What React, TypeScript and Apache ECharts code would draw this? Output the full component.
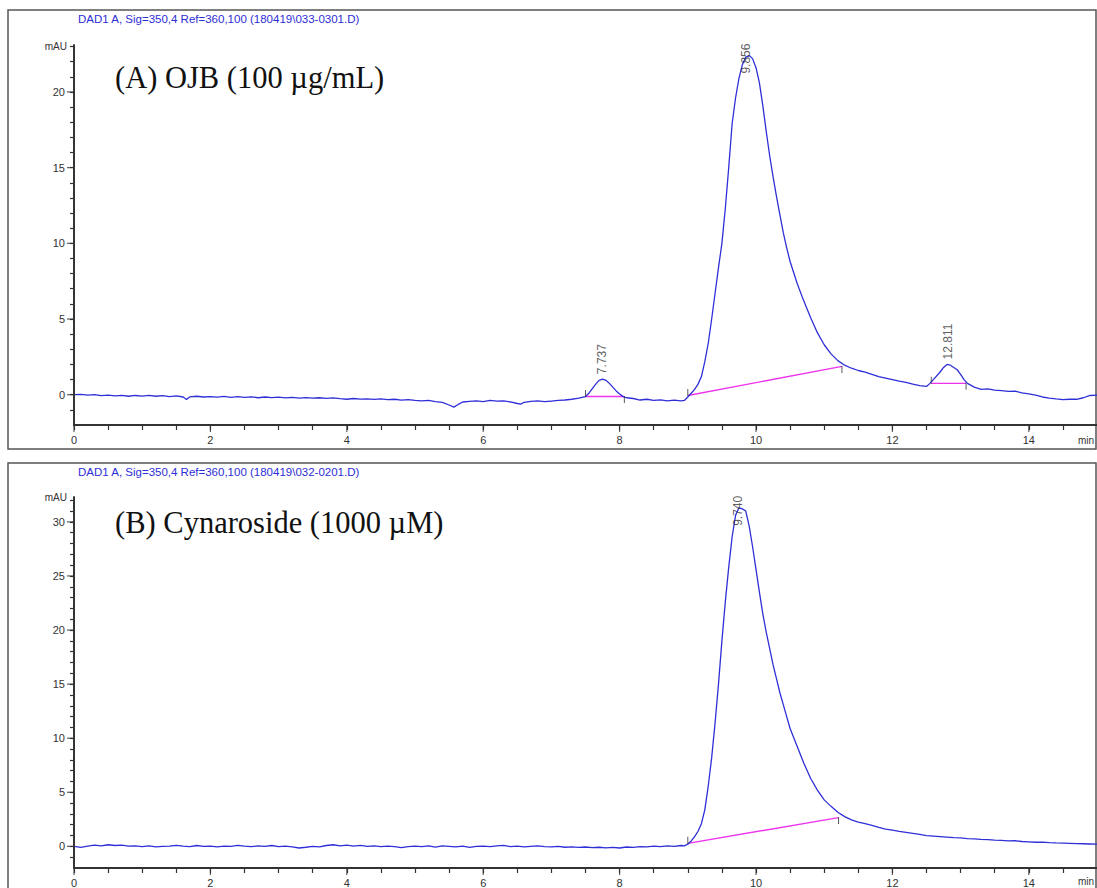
import React, { useEffect, useRef } from "react";
import * as echarts from "echarts";

// ---------- texts ----------
const headerA = "DAD1 A, Sig=350,4 Ref=360,100 (180419\\033-0301.D)";
const headerB = "DAD1 A, Sig=350,4 Ref=360,100 (180419\\032-0201.D)";
const titleA = "(A) OJB (100 µg/mL)";
const titleB = "(B) Cynaroside (1000 µM)";
const yUnit = "mAU";
const xUnit = "min";

// ---------- axes ----------
const xRange = [0, 15];
const yRangeA = [-2, 23.1];
const yRangeB = [-2, 32.3];
const xLabelTicks = [0, 2, 4, 6, 8, 10, 12, 14];
const xAllTicks = [0, 0.5, 1, 1.5, 2, 2.5, 3, 3.5, 4, 4.5, 5, 5.5, 6, 6.5, 7, 7.5, 8, 8.5, 9, 9.5, 10, 10.5, 11, 11.5, 12, 12.5, 13, 13.5, 14, 14.5];
const yLabelTicksA = [0, 5, 10, 15, 20];
const yAllTicksA = [-1, 0, 1, 2, 3, 4, 5, 6, 7, 8, 9, 10, 11, 12, 13, 14, 15, 16, 17, 18, 19, 20, 21, 22, 23];
const yLabelTicksB = [0, 5, 10, 15, 20, 25, 30];
const yAllTicksB = [-1, 0, 1, 2, 3, 4, 5, 6, 7, 8, 9, 10, 11, 12, 13, 14, 15, 16, 17, 18, 19, 20, 21, 22, 23, 24, 25, 26, 27, 28, 29, 30, 31, 32];

// ---------- trace A (time min, mAU) ----------
const traceA: [number, number][] = [
  [0.0, 0.0], [0.1, 0.02], [0.2, -0.03], [0.3, 0.0], [0.4, -0.06], [0.5, -0.02], [0.6, -0.08], [0.7, -0.04],
  [0.8, -0.1], [0.9, -0.05], [1.0, -0.09], [1.1, -0.04], [1.2, -0.1], [1.3, -0.06], [1.4, -0.12], [1.5, -0.08],
  [1.6, -0.15], [1.65, -0.32], [1.7, -0.14], [1.8, -0.1], [1.9, -0.15], [2.0, -0.12], [2.1, -0.16], [2.2, -0.11],
  [2.3, -0.17], [2.4, -0.13], [2.5, -0.18], [2.6, -0.14], [2.7, -0.2], [2.8, -0.15], [2.9, -0.19], [3.0, -0.16],
  [3.1, -0.21], [3.2, -0.18], [3.3, -0.22], [3.4, -0.19], [3.5, -0.23], [3.6, -0.2], [3.7, -0.24], [3.8, -0.21],
  [3.9, -0.26], [4.0, -0.3], [4.1, -0.25], [4.2, -0.29], [4.3, -0.27], [4.4, -0.31], [4.5, -0.28], [4.6, -0.33],
  [4.7, -0.3], [4.8, -0.36], [4.9, -0.33], [5.0, -0.38], [5.1, -0.4], [5.2, -0.37], [5.3, -0.45], [5.4, -0.5],
  [5.5, -0.68], [5.57, -0.82], [5.65, -0.6], [5.7, -0.48], [5.8, -0.44], [5.9, -0.4], [6.0, -0.45], [6.1, -0.38],
  [6.2, -0.42], [6.3, -0.4], [6.4, -0.48], [6.5, -0.58], [6.55, -0.62], [6.6, -0.5], [6.7, -0.44], [6.8, -0.4],
  [6.9, -0.46], [7.0, -0.42], [7.1, -0.38], [7.2, -0.35], [7.3, -0.3], [7.4, -0.22], [7.5, -0.12], [7.55, 0.1],
  [7.6, 0.4], [7.65, 0.7], [7.7, 0.95], [7.75, 1.03], [7.8, 0.95], [7.85, 0.75], [7.9, 0.5], [7.95, 0.25],
  [8.0, 0.05], [8.05, -0.12], [8.1, -0.2], [8.2, -0.25], [8.3, -0.35], [8.4, -0.3], [8.5, -0.38], [8.6, -0.34],
  [8.7, -0.4], [8.8, -0.36], [8.9, -0.4], [8.95, -0.38], [9.0, -0.15], [9.05, 0.1], [9.1, 0.35], [9.15, 0.7],
  [9.2, 1.2], [9.25, 2.2], [9.3, 3.4], [9.35, 5.0], [9.4, 6.7], [9.45, 8.4], [9.5, 10.0], [9.55, 12.3],
  [9.6, 15.0], [9.65, 17.9], [9.7, 19.6], [9.75, 20.9], [9.8, 21.8], [9.85, 22.3], [9.9, 22.4], [9.95, 22.2],
  [10.0, 21.6], [10.05, 20.6], [10.1, 19.1], [10.15, 17.4], [10.2, 15.8], [10.25, 14.4], [10.3, 13.1], [10.35, 11.9],
  [10.4, 10.7], [10.45, 9.7], [10.5, 8.8], [10.6, 7.4], [10.7, 6.2], [10.8, 5.1], [10.9, 4.1], [11.0, 3.3],
  [11.1, 2.7], [11.2, 2.25], [11.3, 1.95], [11.4, 1.75], [11.5, 1.6], [11.6, 1.5], [11.7, 1.35], [11.8, 1.2],
  [11.9, 1.1], [12.0, 1.0], [12.1, 0.9], [12.2, 0.82], [12.3, 0.7], [12.4, 0.6], [12.5, 0.55], [12.55, 0.75],
  [12.6, 1.0], [12.7, 1.5], [12.75, 1.8], [12.8, 2.0], [12.85, 1.95], [12.9, 1.8], [12.95, 1.65], [13.0, 1.35],
  [13.05, 1.0], [13.1, 0.75], [13.2, 0.5], [13.3, 0.35], [13.4, 0.38], [13.5, 0.3], [13.6, 0.27], [13.7, 0.22],
  [13.8, 0.24], [13.9, 0.12], [14.0, 0.05], [14.1, -0.02], [14.2, -0.15], [14.3, -0.22], [14.4, -0.28], [14.5, -0.33],
  [14.6, -0.3], [14.7, -0.3], [14.8, -0.2], [14.9, -0.05], [15.0, -0.02],
];

// ---------- trace B ----------
const traceB: [number, number][] = [
  [0.0, 0.0], [0.1, -0.1], [0.2, 0.02], [0.3, 0.12], [0.4, 0.05], [0.5, 0.15], [0.6, 0.08], [0.7, 0.12],
  [0.8, 0.02], [0.9, 0.05], [1.0, -0.02], [1.1, 0.04], [1.2, -0.05], [1.3, 0.0], [1.4, 0.02], [1.5, 0.1],
  [1.6, 0.03], [1.7, -0.02], [1.8, 0.08], [1.9, 0.0], [2.0, 0.02], [2.1, -0.05], [2.2, 0.03], [2.3, 0.0],
  [2.4, 0.1], [2.5, 0.02], [2.6, -0.03], [2.7, 0.05], [2.8, 0.0], [2.9, 0.08], [3.0, -0.02], [3.1, 0.02],
  [3.2, -0.05], [3.3, -0.15], [3.4, -0.08], [3.5, 0.0], [3.6, -0.05], [3.7, 0.08], [3.8, 0.15], [3.9, 0.05],
  [4.0, 0.12], [4.1, 0.02], [4.2, 0.1], [4.3, 0.0], [4.4, 0.05], [4.5, -0.03], [4.6, 0.02], [4.7, -0.02],
  [4.8, -0.12], [4.9, -0.02], [5.0, 0.03], [5.1, -0.02], [5.2, 0.05], [5.3, -0.08], [5.4, 0.04], [5.5, 0.0],
  [5.6, -0.05], [5.7, 0.02], [5.8, -0.1], [5.9, 0.0], [6.0, 0.03], [6.1, -0.02], [6.2, 0.05], [6.3, 0.1],
  [6.4, -0.03], [6.5, 0.02], [6.6, -0.05], [6.7, 0.0], [6.8, 0.05], [6.9, -0.02], [7.0, -0.05], [7.1, 0.0],
  [7.2, -0.08], [7.3, -0.04], [7.4, -0.1], [7.5, -0.06], [7.6, -0.12], [7.7, -0.08], [7.8, -0.14], [7.9, -0.1],
  [8.0, -0.15], [8.1, -0.06], [8.2, -0.1], [8.3, -0.02], [8.4, -0.05], [8.5, 0.02], [8.6, -0.03], [8.7, 0.05],
  [8.8, 0.0], [8.9, 0.08], [8.95, 0.05], [9.0, 0.2], [9.05, 0.5], [9.1, 0.9], [9.15, 1.4], [9.2, 2.1],
  [9.25, 3.4], [9.3, 5.6], [9.35, 8.2], [9.4, 11.4], [9.45, 15.0], [9.5, 19.0], [9.55, 22.6], [9.6, 25.8],
  [9.65, 28.6], [9.7, 30.6], [9.75, 31.3], [9.8, 31.2], [9.85, 31.0], [9.9, 29.6], [9.95, 27.7], [10.0, 25.6],
  [10.05, 23.5], [10.1, 21.5], [10.15, 19.8], [10.2, 18.3], [10.25, 16.8], [10.3, 15.5], [10.35, 14.2], [10.4, 13.1],
  [10.45, 12.0], [10.5, 10.9], [10.6, 9.3], [10.7, 7.7], [10.8, 6.3], [10.9, 5.2], [11.0, 4.3], [11.1, 3.7],
  [11.2, 3.15], [11.3, 2.75], [11.4, 2.45], [11.5, 2.25], [11.6, 2.1], [11.7, 1.95], [11.8, 1.75], [11.9, 1.6],
  [12.0, 1.5], [12.1, 1.38], [12.2, 1.3], [12.3, 1.2], [12.4, 1.1], [12.5, 1.0], [12.6, 0.95], [12.7, 0.9],
  [12.8, 0.85], [12.9, 0.8], [13.0, 0.78], [13.1, 0.72], [13.2, 0.7], [13.3, 0.65], [13.4, 0.62], [13.5, 0.58],
  [13.6, 0.55], [13.7, 0.5], [13.8, 0.52], [13.9, 0.45], [14.0, 0.42], [14.1, 0.38], [14.2, 0.4], [14.3, 0.35],
  [14.4, 0.32], [14.5, 0.3], [14.6, 0.28], [14.7, 0.26], [14.8, 0.24], [14.9, 0.22], [15.0, 0.2],
];

// ---------- peaks & integration baselines ----------
const peakTimesA = [7.737, 9.856, 12.811];
const peakHeightsA = [1.03, 22.4, 2.0];
const peakTimesB = [9.74];
const peakHeightsB = [31.3];
const baselinesA: [number, number][][] = [
  [[7.5, -0.12], [8.07, -0.12]],
  [[9.0, -0.05], [11.26, 1.87]],
  [[12.57, 0.75], [13.08, 0.75]],
];
const baselinesB: [number, number][][] = [
  [[9.0, 0.28], [11.21, 2.66]],
];

const AXIS_COLOR = "#333";
const LABEL_COLOR = "#333";
const TRACE_COLOR = "#2f2fd8";
const BASE_COLOR = "#ee33ee";
const SANS = "'Liberation Sans', Arial, sans-serif";
const SERIF = "'Liberation Serif', 'Times New Roman', serif";

function axesFor(gridIndex: number, yRange: number[], yLabels: number[], yTicks: number[]) {
  const xAxis = {
    type: "value", gridIndex, min: xRange[0], max: xRange[1], position: "bottom",
    axisLine: { show: true, onZero: false, lineStyle: { color: AXIS_COLOR, width: 1.8 } },
    axisTick: { show: true, customValues: xAllTicks, length: 5, lineStyle: { color: AXIS_COLOR, width: 1.2 } },
    axisLabel: { show: true, customValues: xLabelTicks, margin: 9, fontSize: 11, color: LABEL_COLOR, fontFamily: SANS },
    splitLine: { show: false },
  };
  const yAxis = {
    type: "value", gridIndex, min: yRange[0], max: yRange[1], position: "left",
    axisLine: { show: true, onZero: false, lineStyle: { color: AXIS_COLOR, width: 1.8 } },
    axisTick: { show: true, customValues: yTicks, length: 4, lineStyle: { color: AXIS_COLOR, width: 1.2 } },
    axisLabel: { show: true, customValues: yLabels, margin: 9, fontSize: 11, color: LABEL_COLOR, fontFamily: SANS },
    splitLine: { show: false },
  };
  return { xAxis, yAxis };
}

function seriesFor(axisIndex: number, yRange: number[], trace: [number, number][], baselines: [number, number][][],
  peakT: number[], peakH: number[]) {
  const out: any[] = [];
  out.push({
    type: "line", xAxisIndex: axisIndex, yAxisIndex: axisIndex, data: trace, showSymbol: false, symbol: "none",
    lineStyle: { color: TRACE_COLOR, width: 1.3 }, z: 3, silent: true,
  });
  baselines.forEach((seg) => {
    out.push({
      type: "line", xAxisIndex: axisIndex, yAxisIndex: axisIndex, data: seg, symbol: "none",
      lineStyle: { color: BASE_COLOR, width: 1.4 }, z: 2, silent: true,
    });
  });
  // axis frame (left and bottom), drawn through the scales
  out.push({
    type: "line", xAxisIndex: axisIndex, yAxisIndex: axisIndex, symbol: "none", z: 10, clip: false, silent: true,
    data: [[xRange[0], yRange[1]], [xRange[0], yRange[0]], [xRange[1], yRange[0]]],
    lineStyle: { color: "#333", width: 1.8 },
  });
  // longer ticks at the labelled values
  const majorTicks: any[] = [];
  yLabelsFor(yRange).forEach((v) => majorTicks.push({ value: [xRange[0], v], symbolSize: [7, 1.2], symbolOffset: [-3.5, 0] }));
  xLabelTicks.forEach((t) => majorTicks.push({ value: [t, yRange[0]], symbolSize: [1.2, 7], symbolOffset: [0, 3.5] }));
  out.push({
    type: "scatter", xAxisIndex: axisIndex, yAxisIndex: axisIndex, symbol: "rect", clip: false,
    itemStyle: { color: AXIS_COLOR }, silent: true, z: 11, data: majorTicks,
  });
  const marks: any[] = [];
  baselines.forEach((seg) => {
    marks.push({ value: seg[0], symbolOffset: [0, -3] });
    marks.push({ value: seg[1], symbolOffset: [0, 3] });
  });
  out.push({
    type: "scatter", xAxisIndex: axisIndex, yAxisIndex: axisIndex, symbol: "rect", symbolSize: [1, 7],
    itemStyle: { color: "#333" }, silent: true, z: 4, data: marks,
  });
  out.push({
    type: "scatter", xAxisIndex: axisIndex, yAxisIndex: axisIndex, symbolSize: 0, silent: true, z: 5,
    data: peakT.map((t, i) => ({
      value: [t, peakH[i]],
      label: {
        show: true, formatter: t.toFixed(3),
        position: "top", distance: peakH[i] / yRange[1] > 0.8 ? -18 : 5,
        rotate: 90, align: "left", verticalAlign: "middle",
        fontSize: 12, color: LABEL_COLOR, fontFamily: SANS,
      },
    })),
  });
  return out;
}

function yLabelsFor(yRange: number[]) {
  return yRange === yRangeA ? yLabelTicksA : yLabelTicksB;
}

export default function App() {
  const ref = useRef<HTMLDivElement>(null);
  useEffect(() => {
    if (!ref.current) return;
    const chart = echarts.init(ref.current, undefined, { renderer: "svg" });
    const a = axesFor(0, yRangeA, yLabelTicksA, yAllTicksA);
    const b = axesFor(1, yRangeB, yLabelTicksB, yAllTicksB);
    const option: any = {
      animation: false,
      grid: [
        { left: 74, right: 0, top: 45, height: 380 },
        { left: 74, right: 0, top: 497, height: 373 },
      ],
      xAxis: [a.xAxis, b.xAxis],
      yAxis: [a.yAxis, b.yAxis],
      series: [
        ...seriesFor(0, yRangeA, traceA, baselinesA, peakTimesA, peakHeightsA),
        ...seriesFor(1, yRangeB, traceB, baselinesB, peakTimesB, peakHeightsB),
      ],
      graphic: [
        { type: "rect", shape: { x: 8, y: 10, width: 1088, height: 439 }, style: { fill: "none", stroke: "#555", lineWidth: 1.5 }, silent: true },
        { type: "rect", shape: { x: 8, y: 463, width: 1088, height: 440 }, style: { fill: "none", stroke: "#555", lineWidth: 1.5 }, silent: true },
        { type: "text", x: 78, y: 19, style: { text: headerA, fill: "#2d2dd6", font: `11.5px ${SANS}`, verticalAlign: "middle" } },
        { type: "text", x: 78, y: 472, style: { text: headerB, fill: "#2d2dd6", font: `11.5px ${SANS}`, verticalAlign: "middle" } },
        { type: "text", x: 115, y: 78, style: { text: titleA, fill: "#111", font: `30.5px ${SERIF}`, verticalAlign: "middle" } },
        { type: "text", x: 115, y: 523, style: { text: titleB, fill: "#111", font: `30.5px ${SERIF}`, verticalAlign: "middle" } },
        { type: "text", x: 67, y: 46, style: { text: yUnit, fill: LABEL_COLOR, font: `10px ${SANS}`, align: "right", verticalAlign: "middle" } },
        { type: "text", x: 67, y: 497, style: { text: yUnit, fill: LABEL_COLOR, font: `10px ${SANS}`, align: "right", verticalAlign: "middle" } },
        { type: "text", x: 1078, y: 440, style: { text: xUnit, fill: LABEL_COLOR, font: `10px ${SANS}`, verticalAlign: "middle" } },
        { type: "text", x: 1078, y: 881, style: { text: xUnit, fill: LABEL_COLOR, font: `10px ${SANS}`, verticalAlign: "middle" } },
      ],
    };
    chart.setOption(option);
    return () => chart.dispose();
  }, []);
  return <div ref={ref} style={{ position: "absolute", left: 0, top: 0, width: 1097, height: 888, background: "#fff" }} />;
}
